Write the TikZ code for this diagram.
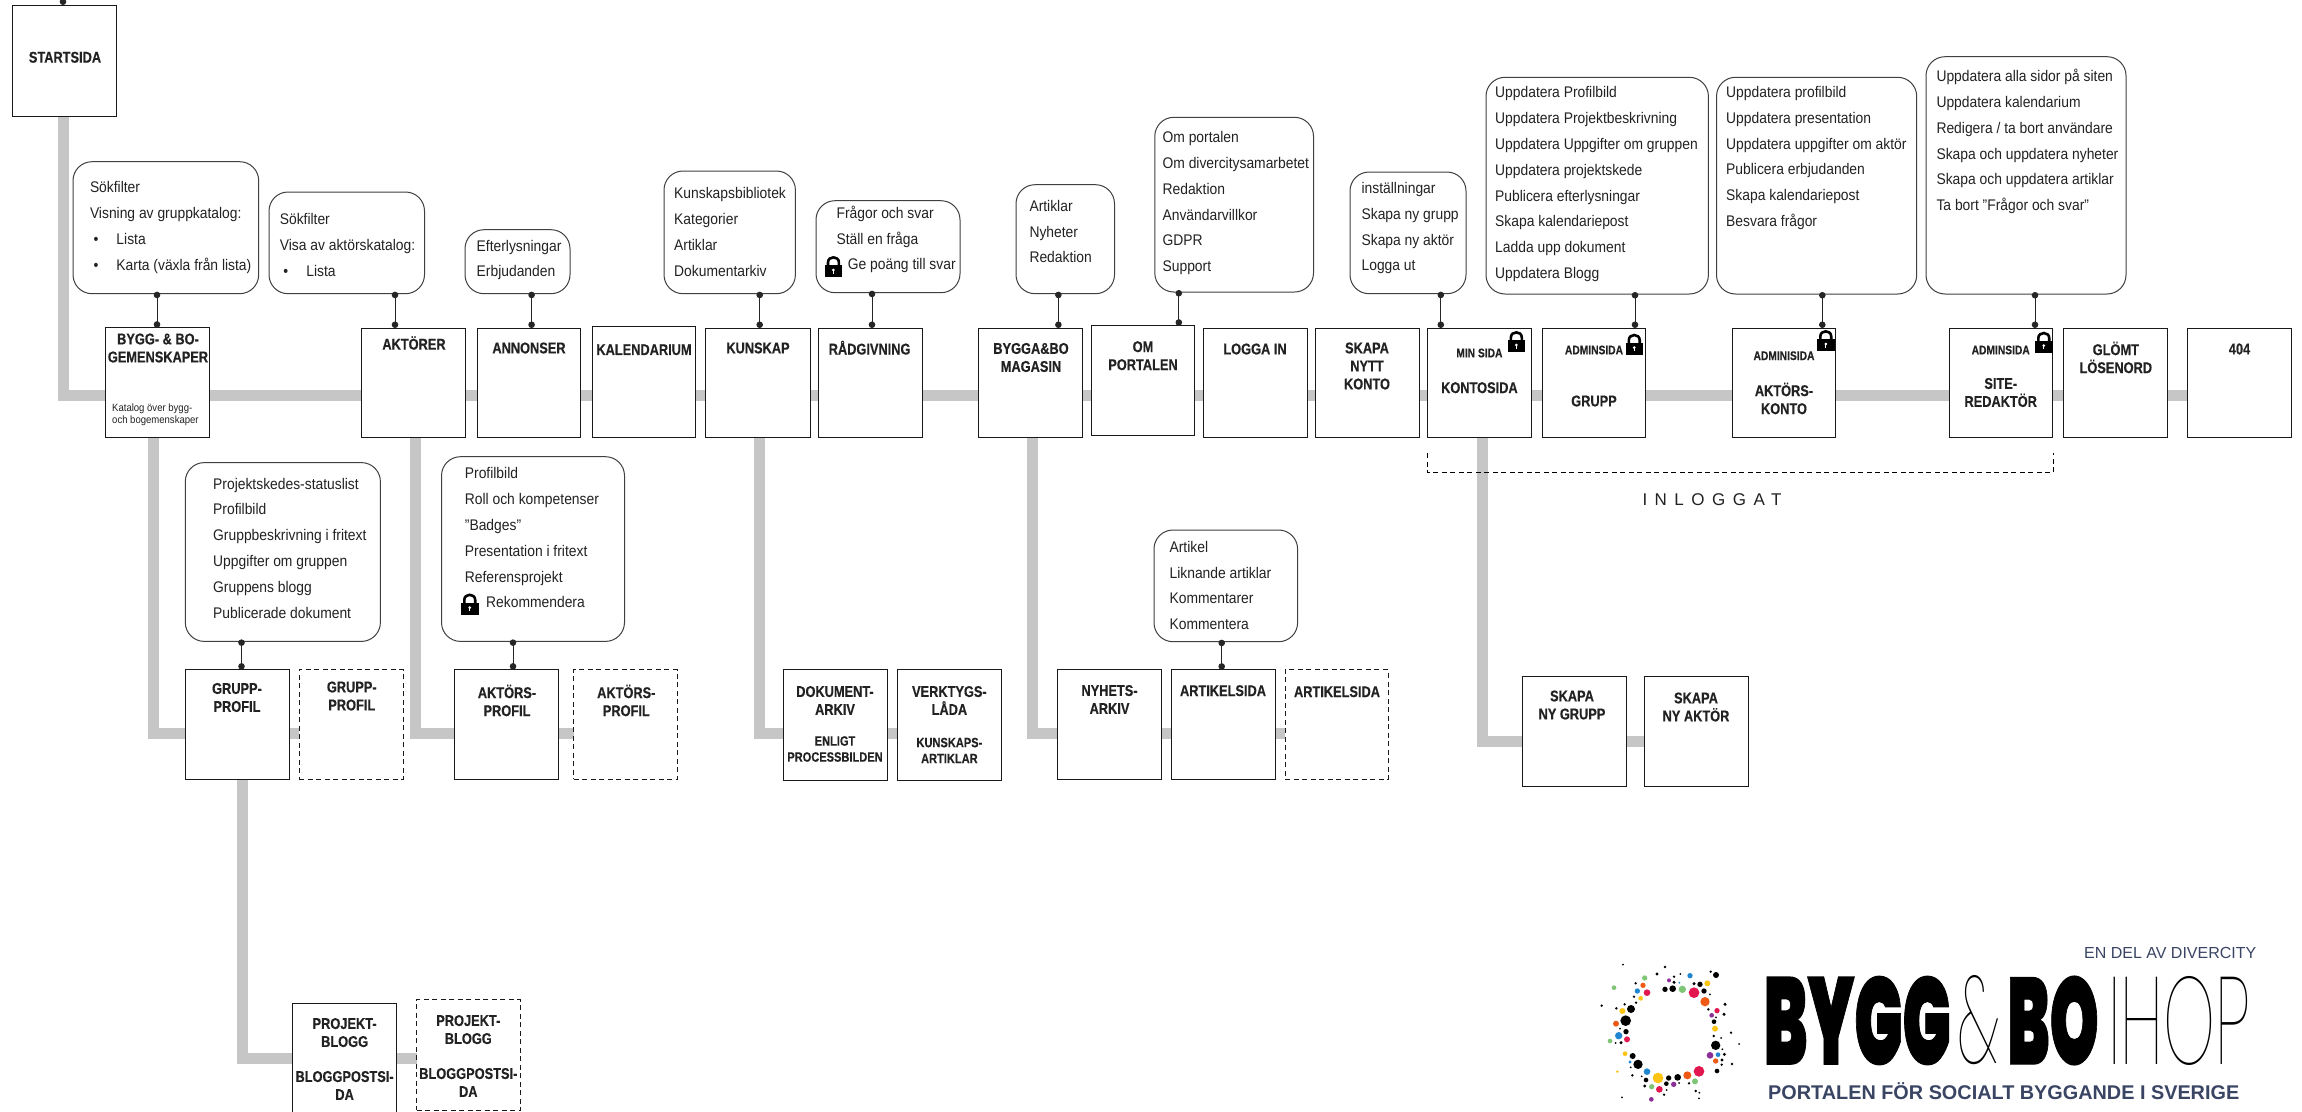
\documentclass[tikz,border=0pt]{standalone}
\usepackage{fontspec}
\setmainfont[FakeStretch=0.9]{Liberation Sans}
\newfontfamily\titlefont[FakeStretch=0.82,BoldFeatures={FakeBold=0.3}]{Liberation Sans}
\newfontfamily\heavyfont[FakeBold=1]{Poppins Black}
\newfontfamily\thinfont{Poppins Thin}
\newfontfamily\plainsans{Liberation Sans}
\newfontfamily\spacedfont[LetterSpace=44]{Liberation Sans}
\usetikzlibrary{arrows.meta,backgrounds}
\definecolor{trunkgray}{HTML}{C6C6C6}
\definecolor{inktext}{HTML}{222222}
\definecolor{logonavy}{HTML}{3A4564}
\definecolor{dk}{HTML}{000000}
\definecolor{dr}{HTML}{E2174F}
\definecolor{dor}{HTML}{EE5A16}
\definecolor{dy}{HTML}{FDC414}
\definecolor{dg}{HTML}{7FC576}
\definecolor{db}{HTML}{1F86CF}
\definecolor{dp}{HTML}{8B2F96}
\tikzset{
  pagebox/.style={draw=black!90,line width=1pt,fill=white,inner sep=0pt,outer sep=0pt},
  ghostbox/.style={pagebox,dash pattern=on 5pt off 3.5pt,line width=1pt},
  bubble/.style={draw=black!75,line width=1pt,fill=white,rounded corners=19pt,inner sep=0pt,outer sep=0pt},
  boxtitle/.style={align=center,inner sep=0pt,text=inktext,yshift=1pt,font=\fontsize{15.6}{18}\titlefont\bfseries},
  boxsmall/.style={align=center,inner sep=0pt,text=inktext,yshift=1pt,font=\fontsize{12.5}{14}\titlefont\bfseries},
  boxnote/.style={align=left,inner sep=0pt,text=inktext,anchor=west,font=\fontsize{10.6}{12.4}\selectfont},
  listing/.style={align=left,inner sep=0pt,text=inktext,anchor=west,yshift=-0.5pt,font=\fontsize{15.4}{25.8}\selectfont},
  trunk/.style={draw=trunkgray,line width=11pt},
  link/.style={draw=black!85,line width=1pt,{Circle[length=6.5pt,width=6.5pt]}-{Circle[length=6.5pt,width=6.5pt]},shorten <=-2pt}
}
\newcommand\pg[6][pagebox]{\node[#1,minimum width={#5pt-#3pt},minimum height={#6pt-#4pt},anchor=north west] (#2) at (#3,#4) {};}
\newcommand\bub[5]{\node[bubble,minimum width={#4pt-#2pt},minimum height={#5pt-#3pt},anchor=north west] (#1) at (#2,#3) {};}
\newcommand\padlock[2]{\begin{scope}[shift={(#1,#2)}]
  \draw[black,line width=2.6pt] (3.3,11) -- (3.3,7.5) .. controls (3.3,0.6) and (14.2,0.6) .. (14.2,7.5) -- (14.2,11);
  \fill[black] (0,10) rectangle (17.5,22);
  \fill[white] (8.75,15) circle[radius=1.5pt];
  \fill[white] (8.1,15) rectangle (9.4,18.5);
\end{scope}}
\begin{document}
\begin{tikzpicture}[x=1pt,y=-1pt]
\useasboundingbox (0,0) rectangle (2302,1111);
% boxes of the main row
\pg{start}{12}{5}{116}{116}
\pg{bygg}{105.6}{327.7}{209.7}{437}
\pg{aktorer}{361.7}{328}{465.3}{437}
\pg{annonser}{477}{328}{580.6}{437}
\pg{kalender}{592}{326.5}{695}{437}
\pg{kunskap}{705.6}{328}{810}{437}
\pg{radgiv}{818.6}{328}{922.7}{437}
\pg{magasin}{978.8}{328}{1082.9}{437}
\pg{omport}{1091}{325.7}{1194.6}{435}
\pg{loggain}{1203}{328}{1307}{437}
\pg{nyttkonto}{1315}{328}{1419}{437}
\pg{konto}{1427.6}{328}{1531.8}{437}
\pg{grupp}{1542}{328}{1645.7}{437}
\pg{aktkonto}{1732}{328}{1835.5}{437}
\pg{site}{1949}{328}{2052.5}{437}
\pg{glomt}{2063.4}{328}{2167}{437}
\pg{nf}{2187.7}{328}{2291.8}{437}
% lower boxes
\pg{gprof}{185.3}{669.6}{289.3}{779.3}
\pg[ghostbox]{gprofd}{299}{669.6}{403}{779.3}
\pg{aprof}{454.5}{669.6}{558}{779.3}
\pg[ghostbox]{aprofd}{573.7}{669.6}{677}{779.3}
\pg{dokarkiv}{783.6}{669.7}{887}{780}
\pg{verktyg}{897}{669.7}{1001}{780}
\pg{nyhet}{1057.8}{669.7}{1161.8}{779}
\pg{artikel}{1171}{669.7}{1275.3}{779}
\pg[ghostbox]{artikeld}{1285}{669.7}{1388}{779}
\pg{nygrupp}{1522}{676.7}{1626}{786}
\pg{nyaktor}{1644.6}{676.7}{1748.5}{786}
\pg{blogg}{292.4}{1003.5}{396}{1116}
\pg[ghostbox]{bloggd}{416.5}{999.7}{520.5}{1110}
% bubbles
\bub{bA}{73}{161.7}{258.7}{293.7}
\bub{bB}{269}{192}{424.5}{293.7}
\bub{bC}{465}{229.7}{570}{293.7}
\bub{bD}{664}{171}{795.4}{293.7}
\bub{bE}{816}{200.7}{960}{292.7}
\bub{bF}{1016}{184.7}{1114.5}{293.7}
\bub{bG}{1154.8}{117.3}{1313.5}{292}
\bub{bH}{1350}{172}{1466}{293.7}
\bub{bI}{1486}{77.3}{1708.4}{294}
\bub{bJ}{1716.5}{77.3}{1916.7}{294}
\bub{bK}{1926}{56.7}{2126}{294}
\bub{bL}{185.3}{462.6}{380.4}{641.4}
\bub{bM}{441.5}{456.7}{624.5}{641.4}
\bub{bN}{1154}{530}{1297.6}{641.7}
% grey structure
\begin{scope}[on background layer]
\fill[white] (0,0) rectangle (2302,1111);
\draw[trunk] (start.south -| 63,0) |- (bygg.west |- 0,395);
\foreach \a/\b in {bygg/aktorer,aktorer/annonser,annonser/kalender,kalender/kunskap,kunskap/radgiv,radgiv/magasin,magasin/omport,omport/loggain,loggain/nyttkonto,nyttkonto/konto,konto/grupp,grupp/aktkonto,aktkonto/site,site/glomt,glomt/nf}
  \draw[trunk] (\a.east |- 0,395) -- (\b.west |- 0,395);
\draw[trunk] (bygg.south -| 153,0) |- (gprof.west |- 0,733);
\draw[trunk] (gprof.east |- 0,733) -- (gprofd.west |- 0,733);
\draw[trunk] (aktorer.south -| 415,0) |- (aprof.west |- 0,733);
\draw[trunk] (aprof.east |- 0,733) -- (aprofd.west |- 0,733);
\draw[trunk] (kunskap.south -| 759,0) |- (dokarkiv.west |- 0,733);
\draw[trunk] (dokarkiv.east |- 0,733) -- (verktyg.west |- 0,733);
\draw[trunk] (magasin.south -| 1032.5,0) |- (nyhet.west |- 0,733);
\draw[trunk] (nyhet.east |- 0,733) -- (artikel.west |- 0,733);
\draw[trunk] (artikel.east |- 0,733) -- (artikeld.west |- 0,733);
\draw[trunk] (konto.south -| 1482,0) |- (nygrupp.west |- 0,741);
\draw[trunk] (nygrupp.east |- 0,741) -- (nyaktor.west |- 0,741);
\draw[trunk] (gprof.south -| 242,0) |- (blogg.west |- 0,1058);
\draw[trunk] (blogg.east |- 0,1058) -- (bloggd.west |- 0,1058);
\end{scope}
% connectors
\foreach \a/\b/\x in {bA/bygg/157,bB/aktorer/395,bC/annonser/531.6,bD/kunskap/759.7,bE/radgiv/872,bF/magasin/1058.4,bG/omport/1178.8,bH/konto/1440.8,bI/grupp/1635,bJ/aktkonto/1822.3,bK/site/2035,bL/gprof/241.5,bM/aprof/513,bN/artikel/1221.7}
  \draw[link] (\a.south -| \x,0) -- (\b.north -| \x,0);
\coordinate (topend) at (63,-4);
\draw[draw=black!85,line width=1pt,-{Circle[length=6.5pt,width=6.5pt]}] (topend) -- (start.north -| topend);
% dashed bracket
\coordinate (inA) at (1427.6,453);
\coordinate (inB) at (2053.6,453);
\draw[black,line width=1pt,dash pattern=on 5pt off 3.5pt] (inA) -- (1427.6,472.7) -- (2053.6,472.7) -- (inB);
\node[inner sep=0pt,text=inktext,font=\fontsize{17}{20}\spacedfont] (inloggat) at (1712,499.5) {INLOGGAT};
% box titles
\node[boxtitle] (tstart) at (65,58.3) {STARTSIDA};
\node[boxtitle] (tbygg) at (158,349) {BYGG- \& BO-\\GEMENSKAPER};
\node[boxnote] (nbygg) at (112,415) {Katalog över bygg-\\och bogemenskaper};
\node[boxtitle] (taktorer) at (414,344) {AKTÖRER};
\node[boxtitle] (tannonser) at (529,349) {ANNONSER};
\node[boxtitle] (tkalender) at (644,350.7) {KALENDARIUM};
\node[boxtitle] (tkunskap) at (758,349) {KUNSKAP};
\node[boxtitle] (tradgiv) at (869.6,348.7) {RÅDGIVNING};
\node[boxtitle] (tmagasin) at (1031,358.5) {BYGGA\&BO\\MAGASIN};
\node[boxtitle] (tomport) at (1143,356.7) {OM\\PORTALEN};
\node[boxtitle] (tloggain) at (1255,350) {LOGGA IN};
\node[boxtitle] (tnytt) at (1367,367) {SKAPA\\NYTT\\KONTO};
\node[boxsmall] (skonto) at (1479.4,354) {MIN SIDA};
\node[boxtitle] (tkonto) at (1479.4,388.7) {KONTOSIDA};
\node[boxsmall] (sgrupp) at (1594,351) {ADMINSIDA};
\node[boxtitle] (tgrupp) at (1594,402) {GRUPP};
\node[boxsmall] (saktkonto) at (1784,356.7) {ADMINISIDA};
\node[boxtitle] (taktkonto) at (1784,399.5) {AKTÖRS-\\KONTO};
\node[boxsmall] (ssite) at (2000.7,351) {ADMINSIDA};
\node[boxtitle] (tsite) at (2000.7,393.5) {SITE-\\REDAKTÖR};
\node[boxtitle] (tglomt) at (2115.8,358.5) {GLÖMT\\LÖSENORD};
\node[boxtitle] (tnf) at (2239.5,350) {404};
\node[boxtitle] (tgprof) at (237,698.5) {GRUPP-\\PROFIL};
\node[boxtitle] (tgprofd) at (351.8,697) {GRUPP-\\PROFIL};
\node[boxtitle] (taprof) at (507,701.5) {AKTÖRS-\\PROFIL};
\node[boxtitle] (taprofd) at (626.3,701.5) {AKTÖRS-\\PROFIL};
\node[boxtitle] (tblogg) at (344.6,1060) {PROJEKT-\\BLOGG\\[17pt]BLOGGPOSTSI-\\DA};
\node[boxtitle] (tbloggd) at (468.3,1057) {PROJEKT-\\BLOGG\\[17pt]BLOGGPOSTSI-\\DA};
\node[boxtitle] (tdok) at (835,701.5) {DOKUMENT-\\ARKIV};
\node[boxtitle,font=\fontsize{13.5}{16}\titlefont\bfseries] (sdok) at (835,750) {ENLIGT\\PROCESSBILDEN};
\node[boxtitle] (tverk) at (949.4,701.5) {VERKTYGS-\\LÅDA};
\node[boxtitle,font=\fontsize{13.5}{16}\titlefont\bfseries] (sverk) at (949.4,751.5) {KUNSKAPS-\\ARTIKLAR};
\node[boxtitle] (tnyhet) at (1109.5,700.5) {NYHETS-\\ARKIV};
\node[boxtitle] (tartikel) at (1223,691.7) {ARTIKELSIDA};
\node[boxtitle] (tartikeld) at (1337,692.7) {ARTIKELSIDA};
\node[boxtitle] (tnygrupp) at (1572,706) {SKAPA\\NY GRUPP};
\node[boxtitle] (tnyaktor) at (1696,708) {SKAPA\\NY AKTÖR};
% lists
\node[listing] (lA) at (89.8,227) {Sökfilter\\Visning av gruppkatalog:\\\makebox[26.5pt][l]{\hspace*{3.5pt}•}Lista\\\makebox[26.5pt][l]{\hspace*{3.5pt}•}Karta (växla från lista)};
\node[listing] (lB) at (279.6,244.7) {Sökfilter\\Visa av aktörskatalog:\\\makebox[26.5pt][l]{\hspace*{3.5pt}•}Lista};
\node[listing] (lC) at (476.5,259.5) {Efterlysningar\\Erbjudanden};
\node[listing] (lD) at (674,231.6) {Kunskapsbibliotek\\Kategorier\\Artiklar\\Dokumentarkiv};
\node[listing] (lE) at (836.4,239) {Frågor och svar\\Ställ en fråga\\\hspace*{11.2pt}Ge poäng till svar};
\node[listing] (lF) at (1029.3,231) {Artiklar\\Nyheter\\Redaktion};
\node[listing] (lG) at (1162.4,202.7) {Om portalen\\Om divercitysamarbetet\\Redaktion\\Användarvillkor\\GDPR\\Support};
\node[listing] (lH) at (1361.4,227.7) {inställningar\\Skapa ny grupp\\Skapa ny aktör\\Logga ut};
\node[listing] (lI) at (1495,183.7) {Uppdatera Profilbild\\Uppdatera Projektbeskrivning\\Uppdatera Uppgifter om gruppen\\Uppdatera projektskede\\Publicera efterlysningar\\Skapa kalendariepost\\Ladda upp dokument\\Uppdatera Blogg};
\node[listing] (lJ) at (1726,157.6) {Uppdatera profilbild\\Uppdatera presentation\\Uppdatera uppgifter om aktör\\Publicera erbjudanden\\Skapa kalendariepost\\Besvara frågor};
\node[listing] (lK) at (1936.3,141) {Uppdatera alla sidor på siten\\Uppdatera kalendarium\\Redigera / ta bort användare\\Skapa och uppdatera nyheter\\Skapa och uppdatera artiklar\\Ta bort "Frågor och svar"};
\node[listing] (lL) at (213,547.5) {Projektskedes-statuslist\\Profilbild\\Gruppbeskrivning i fritext\\Uppgifter om gruppen\\Gruppens blogg\\Publicerade dokument};
\node[listing] (lM) at (464.7,537.3) {Profilbild\\Roll och kompetenser\\"Badges"\\Presentation i fritext\\Referensprojekt\\\hspace*{21.3pt}Rekommendera};
\node[listing] (lN) at (1169.4,585) {Artikel\\Liknande artiklar\\Kommentarer\\Kommentera};
% padlocks
\padlock{1507.6}{330}
\padlock{1625.5}{332.7}
\padlock{1817}{329}
\padlock{2035}{330.7}
\padlock{824.7}{255}
\padlock{461}{592.5}
% logo
\foreach \x/\y/\r/\c in {99/29/3/dk,225/36/4/dk,201/57/5/dk,237/76/6/dp,252/65/4/dk,252/82/5/dk,268/83/3/db,271/57/3/dk,300/62/8/db,362/50/4/dk,378/60/9/dk,312/86/5/dk,330/88/8/dk,352/85/9/dy,342/108/8/dk,360/118/3/dk,312/113/16/dr,277/103/11/dg,248/101/10/dk,225/103/8/dk,345/140/14/dor,355/163/4/dk,381/167/8/dr,405/148/5/dk,402/178/5/dk,365/181/7/dp,378/187/3/dk,372/200/7/dk,375/221/9/dy,371/243/4/dk,393/249/3/dk,423/233/4/dk,447/267/3/dk,377/271/14/dk,397/283/3/dk,360/301/10/dp,384/299/7/db,403/298/5/dk,396/315/5/dk,377/318/8/dor,395/329/4/dk,426/327/4/dk,381/348/7/dk,327/349/16/dr,292/361/12/dor,263/367/10/dk,236/369/8/dk,297/385/4/dk,315/379/9/dg,267/384/3/dk,251/388/8/dp,229/386/7/dk,230/405/3/dk,222/419/4/dk,208/403/10/dr,204/369/16/dy,185/395/8/dg,164/393/5/dk,168/375/7/dk,155/364/3/dk,171/350/10/db,144/328/14/dk,128/303/9/dk,105/296/7/dy,120/321/5/db,122/337/3/dk,127/361/4/dk,82/350/4/dy,317/408/4/dk,328/413/3/dk,327/430/3/dk,96/427/3/dk,184/433/7/dp,164/69/8/dg,159/91/8/dor,137/85/4/dk,142/108/8/db,171/113/10/dr,132/125/4/dk,152/130/7/dy,138/143/4/dk,123/162/12/dk,104/148/4/dk,97/168/9/dy,79/160/4/dk,72/98/7/dg,35/152/4/dk,107/197/16/dk,78/206/9/dor,90/221/3/dk,108/230/8/dk,86/242/11/db,111/253/9/dr,60/258/7/dg,77/264/3/dk,93/263/5/dk}
  \fill[\c] ({1590+\x/3},{955+\y/3}) circle[radius={\r/3*1pt}];
\node[anchor=east,inner sep=0pt,text=logonavy,font=\fontsize{16}{18}\plainsans] (endel) at (2256.5,953) {EN DEL AV DIVERCITY};
\node[anchor=west,inner sep=0pt] (wbygg) at (1763.5,1020.5) {\resizebox{187pt}{88pt}{\heavyfont BYGG}};
\node[anchor=west,inner sep=0pt] (wamp) at (1957.5,1020.5) {\resizebox{41.5pt}{88pt}{\thinfont\&}};
\node[anchor=west,inner sep=0pt] (wbo) at (2007,1020.5) {\resizebox{91.5pt}{88pt}{\heavyfont BO}};
\node[anchor=west,inner sep=0pt] (wihop) at (2108,1020.5) {\resizebox{142pt}{88pt}{\thinfont IHOP}};
\node[anchor=west,inner sep=0pt,text=logonavy] (wport) at (1768,1090.7) {\resizebox{471pt}{!}{\plainsans\bfseries PORTALEN FÖR SOCIALT BYGGANDE I SVERIGE}};
\end{tikzpicture}
\end{document}
